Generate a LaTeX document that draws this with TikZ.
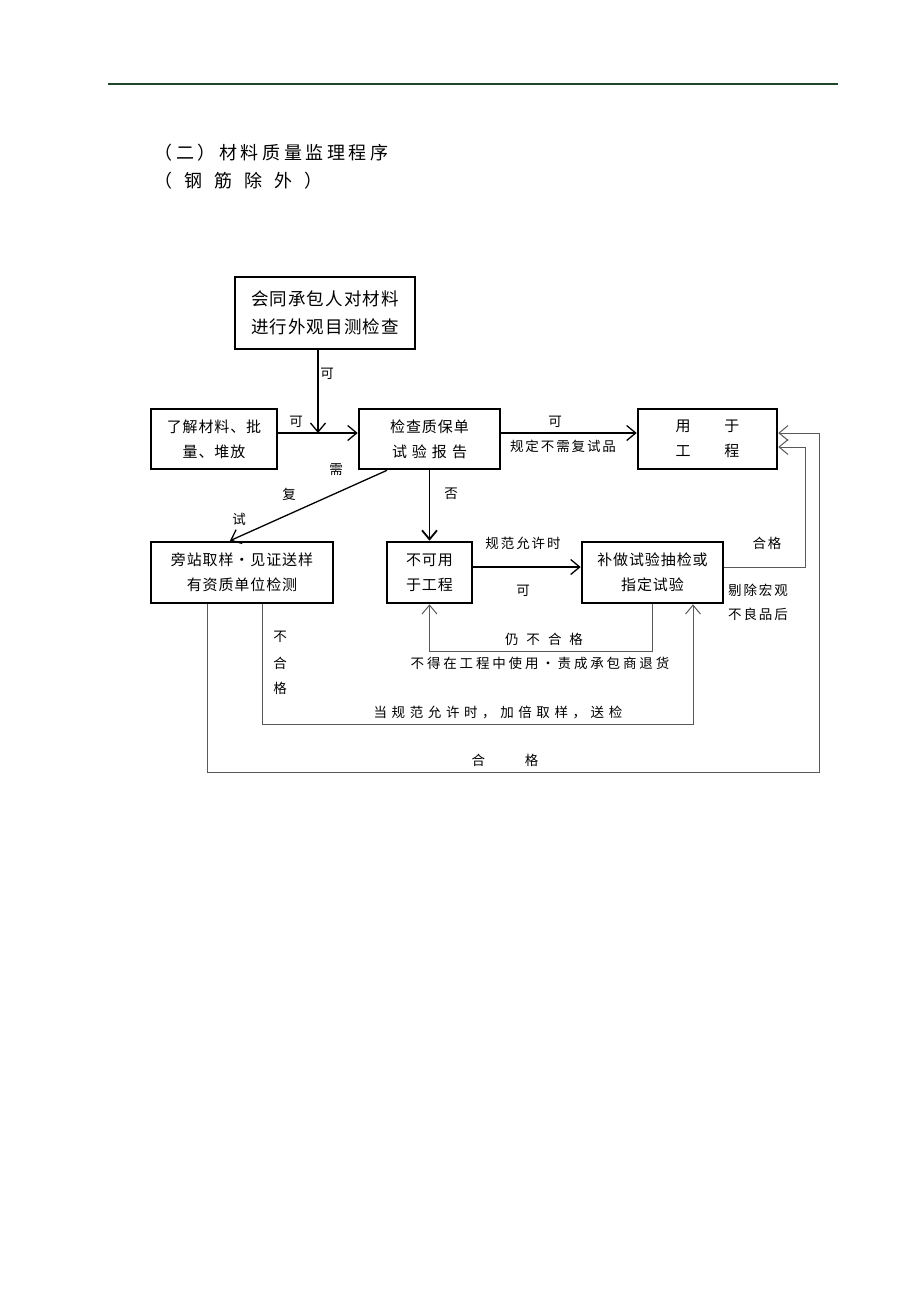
\documentclass[tikz,border=0pt]{standalone}
\usepackage{fontspec}
\setmainfont{Noto Sans CJK SC}
\newfontfamily\titlefont[LetterSpace=20]{Noto Sans CJK SC}
\newfontfamily\boxfont[LetterSpace=6]{Noto Sans CJK SC}
\newfontfamily\lblfont[LetterSpace=14]{Noto Sans CJK SC}
\newfontfamily\retfont[LetterSpace=21]{Noto Sans CJK SC}
\newfontfamily\dblfont[LetterSpace=34]{Noto Sans CJK SC}
\usetikzlibrary{arrows.meta}
\definecolor{rulegreen}{RGB}{30,70,40}

\begin{document}
\begin{tikzpicture}
  [x=1pt,y=-1pt,
   box/.style={draw,line width=2.6pt,rectangle,inner sep=0pt,align=center,
               font=\boxfont\fontsize{15}{25}\selectfont},
   lbl/.style={inner sep=0pt,align=center,font=\lblfont\fontsize{13.5}{24}\selectfont},
   arr/.style={line width=1.3pt,-{Straight Barb[length=9pt,width=15pt]}},
   back/.style={line width=1pt,draw=black!65,-{Straight Barb[length=9pt,width=15pt]}}]
  \useasboundingbox (0,0) rectangle (920,1302);

  % page rule and heading
  \draw[rulegreen,line width=1.2pt] (108,84) -- (838,84);
  \node[anchor=west,font=\titlefont\fontsize{18}{22}\selectfont] (title) at (151,153) {（二）材料质量监理程序};
  \node[anchor=west,font=\titlefont\fontsize{18}{22}\selectfont] (subtitle) at (151,181)
    {（\hspace{12pt}钢\hspace{12pt}筋\hspace{12pt}除\hspace{12pt}外\hspace{12pt}）};

  % boxes
  \node[box,minimum width=180,minimum height=72,font=\boxfont\fontsize{17.5}{28}\selectfont]
    (visual) at (325,313) {会同承包人对材料\\进行外观目测检查};
  \node[box,minimum width=126,minimum height=60] (learn) at (214,439) {了解材料、批\\量、堆放};
  \node[box,minimum width=141,minimum height=60] (report) at (429.5,439)
    {检查质保单\\试\hspace{5pt}验\hspace{5pt}报\hspace{5pt}告};
  \node[box,minimum width=139,minimum height=60] (use) at (707.5,439)
    {用\hspace{34pt}于\\工\hspace{34pt}程};
  \node[box,minimum width=182,minimum height=61] (sample) at (242,572.5)
    {旁站取样・见证送样\\有资质单位检测};
  \node[box,minimum width=85,minimum height=61] (reject) at (429.5,572.5) {不可用\\于工程};
  \node[box,minimum width=141,minimum height=61] (retest) at (652.5,572.5)
    {补做试验抽检或\\指定试验};

  % helper points
  \coordinate (jn) at (318,433);
  \coordinate (d1) at ([yshift=6pt]use.east);
  \coordinate (d2) at ([yshift=-8pt]use.east);
  \coordinate (rr1) at (805,0);
  \coordinate (rr2) at (819,0);
  \coordinate (s1) at ([xshift=20pt]sample.south);
  \coordinate (s2) at ([xshift=-35pt]sample.south);
  \coordinate (t1) at ([xshift=40.5pt]retest.south);

  % connectors
  \draw[arr] (visual.south -| jn) -- (jn);
  \draw[arr] (learn.east |- jn) -- (report.west |- jn);
  \draw[arr] (report.east |- jn) -- (use.west |- jn);
  \draw[arr] ([xshift=-42.5pt]report.south) -- ([xshift=-12pt]sample.north);
  \draw[arr,line width=1.8pt] (report) -- (reject);
  \draw[arr] ([yshift=5.5pt]reject.east) -- ([yshift=5.5pt]retest.west);
  \draw[back] ([yshift=5.5pt]retest.east) -| (rr1 |- d2) -- (d2);
  \draw[back] (retest.south) -- ++(0,47) -| (reject.south);
  \draw[back] (s1) -- ++(0,120) -| (t1);
  \draw[back] (s2) -- ++(0,168) -| (rr2 |- d1) -- (d1);

  % labels
  \node[lbl] (k1) at (327,374) {可};
  \node[lbl] (k2) at (296,422) {可};
  \node[lbl] (k3) at (555,422) {可};
  \node[lbl] (k4) at (563,446) {规定不需复试品};
  \node[lbl] (n1) at (336,470) {需};
  \node[lbl] (n2) at (289,494) {复};
  \node[lbl] (n3) at (239,519) {试};
  \node[lbl] (no) at (451,494) {否};
  \node[lbl] (k5) at (523,543) {规范允许时};
  \node[lbl] (k6) at (523,591) {可};
  \node[lbl] (ok1) at (767,543) {合格};
  \node[lbl] (rm) at (758,602) {剔除宏观\\不良品后};
  \node[lbl] (still) at (544,639) {仍\hspace{8pt}不\hspace{8pt}合\hspace{8pt}格};
  \node[lbl,font=\retfont\fontsize{13.5}{24}\selectfont] (ret) at (540,663) {不得在工程中使用・责成承包商退货};
  \node[lbl] (f1) at (280,637) {不};
  \node[lbl] (f2) at (280,663) {合};
  \node[lbl] (f3) at (280,688) {格};
  \node[lbl,font=\dblfont\fontsize{13.5}{24}\selectfont] (dbl) at (498,712) {当规范允许时，加倍取样，送检};
  \node[lbl] (ok2) at (505,760) {合\hspace{40pt}格};
\end{tikzpicture}
\end{document}
